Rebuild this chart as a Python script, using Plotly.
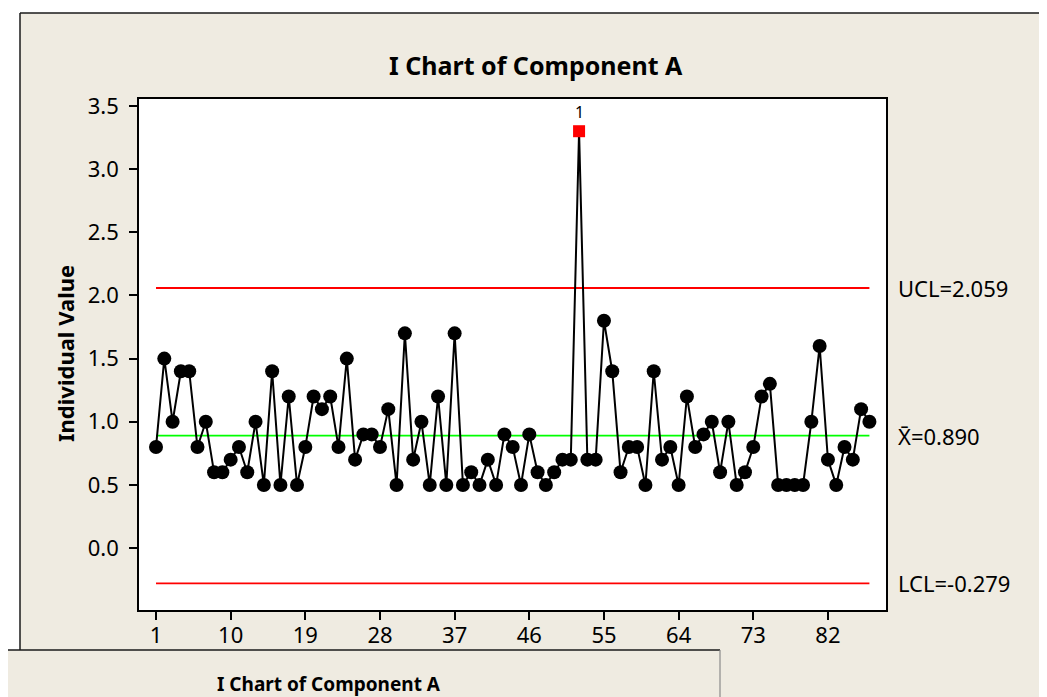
import plotly.graph_objects as go

# ---- data ----
observations = list(range(1, 88))
values = [0.8, 1.5, 1.0, 1.4, 1.4, 0.8, 1.0, 0.6, 0.6, 0.7,
          0.8, 0.6, 1.0, 0.5, 1.4, 0.5, 1.2, 0.5, 0.8, 1.2,
          1.1, 1.2, 0.8, 1.5, 0.7, 0.9, 0.9, 0.8, 1.1, 0.5,
          1.7, 0.7, 1.0, 0.5, 1.2, 0.5, 1.7, 0.5, 0.6, 0.5,
          0.7, 0.5, 0.9, 0.8, 0.5, 0.9, 0.6, 0.5, 0.6, 0.7,
          0.7, 3.3, 0.7, 0.7, 1.8, 1.4, 0.6, 0.8, 0.8, 0.5,
          1.4, 0.7, 0.8, 0.5, 1.2, 0.8, 0.9, 1.0, 0.6, 1.0,
          0.5, 0.6, 0.8, 1.2, 1.3, 0.5, 0.5, 0.5, 0.5, 1.0,
          1.6, 0.7, 0.5, 0.8, 0.7, 1.1, 1.0]
ucl = 2.059
center = 0.890
lcl = -0.279
out_of_control = [52]
test_labels = ["1"]
x_ticks = [1, 10, 19, 28, 37, 46, 55, 64, 73, 82]
y_ticks = [0.0, 0.5, 1.0, 1.5, 2.0, 2.5, 3.0, 3.5]

W, H = 1047, 697
L, R, T, B = 131, 878, 91, 602
BEIGE = "#EFEBE1"
FONT = "Noto Sans"


def px(x):
    return (x - L) / (R - L)


def py(y):
    return (B - y) / (B - T)


fig = go.Figure()

first, last = observations[0], observations[-1]
fig.add_trace(go.Scatter(x=[first, last], y=[ucl, ucl], mode="lines",
                         line=dict(color="#FF0000", width=1.8), hoverinfo="skip"))
fig.add_trace(go.Scatter(x=[first, last], y=[lcl, lcl], mode="lines",
                         line=dict(color="#FF0000", width=1.8), hoverinfo="skip"))
fig.add_trace(go.Scatter(x=[first, last], y=[center, center], mode="lines",
                         line=dict(color="#00FF00", width=1.8), hoverinfo="skip"))

is_ooc = [o in out_of_control for o in observations]
fig.add_trace(go.Scatter(
    x=observations, y=values, mode="lines+markers",
    line=dict(color="black", width=2),
    marker=dict(color=["#FF0000" if f else "black" for f in is_ooc],
                size=[12 if f else 14 for f in is_ooc],
                symbol=["square" if f else "circle" for f in is_ooc],
                opacity=1, line=dict(width=0))))

ooc_y = [values[i - 1] for i in out_of_control]
annotations = []
for xi, yi, lab in zip(out_of_control, ooc_y, test_labels):
    annotations.append(dict(x=xi, y=yi, text=lab, showarrow=False, yshift=19,
                            font=dict(family=FONT, size=16, color="black")))

for val, txt in [(ucl, "UCL=%.3f" % ucl), (center, "X\u0304=%.3f" % center),
                 (lcl, "LCL=%.3f" % lcl)]:
    annotations.append(dict(x=px(888), xref="paper", y=val, yref="y", text=txt,
                            showarrow=False, xanchor="left", yanchor="middle",
                            font=dict(family=FONT, size=22, color="black")))

annotations.append(dict(x=px(528), xref="paper", y=py(57), yref="paper",
                        text="<b>I Chart of Component A</b>", showarrow=False,
                        xanchor="center", yanchor="middle",
                        font=dict(family=FONT, size=25, color="black")))
annotations.append(dict(x=px(57), xref="paper", y=py(346), yref="paper",
                        text="<b>Individual Value</b>", showarrow=False, textangle=-90,
                        xanchor="center", yanchor="middle",
                        font=dict(family=FONT, size=22, color="black")))
annotations.append(dict(x=px(321), xref="paper", y=py(676), yref="paper",
                        text="<b>I Chart of Component A</b>", showarrow=False,
                        xanchor="center", yanchor="middle",
                        font=dict(family=FONT, size=19, color="black")))

shapes = [
    dict(type="rect", xref="paper", yref="paper", x0=px(0), x1=px(W), y0=py(0), y1=py(5),
         fillcolor="white", line=dict(width=0), layer="below"),
    dict(type="rect", xref="paper", yref="paper", x0=px(0), x1=px(12), y0=py(0), y1=py(642),
         fillcolor="white", line=dict(width=0), layer="below"),
    dict(type="line", xref="paper", yref="paper", x0=px(12), x1=px(12), y0=py(5), y1=py(642),
         line=dict(color="#1A1A1A", width=1.5)),
    dict(type="line", xref="paper", yref="paper", x0=px(12), x1=px(W), y0=py(5), y1=py(5),
         line=dict(color="#1A1A1A", width=1.5)),
    dict(type="line", xref="paper", yref="paper", x0=px(0), x1=px(712), y0=py(642), y1=py(642),
         line=dict(color="#1A1A1A", width=1.5)),
    dict(type="line", xref="paper", yref="paper", x0=px(712), x1=px(712), y0=py(642), y1=py(697),
         line=dict(color="#8A8A8A", width=1.2)),
    dict(type="line", xref="paper", yref="paper", x0=px(712), x1=px(W), y0=py(696), y1=py(696),
         line=dict(color="#8A8A8A", width=1.2)),
]

fig.update_layout(
    width=W, height=H,
    margin=dict(l=L, r=W - R, t=T, b=H - B, pad=0),
    paper_bgcolor=BEIGE, plot_bgcolor="white",
    showlegend=False,
    annotations=annotations, shapes=shapes,
    font=dict(family=FONT, size=22, color="black"),
)
fig.update_xaxes(range=[-1.05, 89.0], tickmode="array", tickvals=x_ticks,
                 ticktext=[str(t) for t in x_ticks], ticks="outside", ticklen=8,
                 tickwidth=1.5, tickcolor="black", showgrid=False, zeroline=False,
                 showline=True, mirror=True, linecolor="black", linewidth=1.5,
                 automargin=False, ticklabelstandoff=-3,
                 tickfont=dict(family=FONT, size=22, color="black"))
fig.update_yaxes(range=[-0.49, 3.555], tickmode="array", tickvals=y_ticks,
                 ticktext=["%.1f" % t for t in y_ticks], ticks="outside", ticklen=8,
                 tickwidth=1.5, tickcolor="black", showgrid=False, zeroline=False,
                 showline=True, mirror=True, linecolor="black", linewidth=1.5,
                 ticklabelstandoff=6, automargin=False,
                 tickfont=dict(family=FONT, size=22, color="black"))

fig.write_html("out.html")
